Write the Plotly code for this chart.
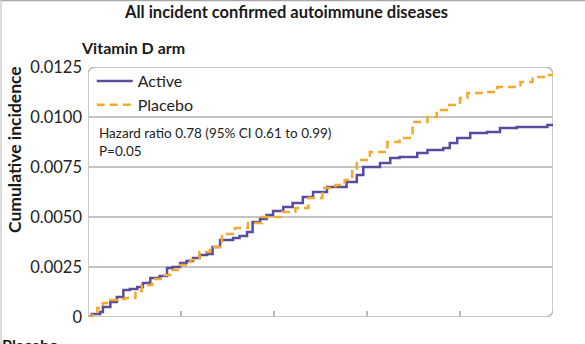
import plotly.graph_objects as go

# Data (years, cumulative incidence), step functions
active_t = [0, 0.04, 0.13, 0.16, 0.24, 0.31, 0.38, 0.45, 0.53, 0.59, 0.67, 0.77, 0.85, 0.91,
            0.99, 1.06, 1.13, 1.20, 1.28, 1.34, 1.42, 1.56, 1.63, 1.71, 1.77, 1.85, 1.92, 1.99,
            2.10, 2.20, 2.31, 2.42, 2.57, 2.78, 2.89, 2.96, 3.14, 3.25, 3.35, 3.54, 3.65, 3.82,
            3.89, 3.97, 4.11, 4.29, 4.43, 4.61, 4.94, 5.0]
active_v = [0, 0.00015, 0.00025, 0.0005, 0.00075, 0.001, 0.00135, 0.0014, 0.0015, 0.0017,
            0.00195, 0.00205, 0.00245, 0.0025, 0.0027, 0.0028, 0.00295, 0.0031, 0.00315, 0.0035,
            0.00385, 0.00395, 0.00405, 0.00425, 0.00475, 0.0049, 0.0051, 0.0053, 0.0055, 0.0057,
            0.006, 0.00625, 0.0065, 0.00675, 0.0071, 0.0075, 0.0077, 0.00795, 0.008, 0.0082,
            0.00835, 0.00845, 0.0087, 0.00895, 0.0092, 0.00925, 0.00945, 0.0095, 0.0096, 0.00965]

placebo_t = [0, 0.05, 0.10, 0.16, 0.24, 0.32, 0.40, 0.51, 0.58, 0.69, 0.80, 0.88, 0.99, 1.10,
             1.20, 1.31, 1.44, 1.58, 1.72, 1.87, 2.09, 2.23, 2.37, 2.52, 2.66, 2.76, 2.84, 2.89,
             3.03, 3.22, 3.35, 3.49, 3.65, 3.75, 3.86, 4.00, 4.08, 4.25, 4.40, 4.65, 4.78, 4.94, 5.0]
placebo_v = [0, 0.00025, 0.00045, 0.0007, 0.00085, 0.0009, 0.00095, 0.0013, 0.0016, 0.0019,
             0.0021, 0.00235, 0.0026, 0.00285, 0.00325, 0.0035, 0.00415, 0.00445, 0.0047, 0.005,
             0.00525, 0.00545, 0.00595, 0.00645, 0.0066, 0.00685, 0.00735, 0.00785, 0.00825,
             0.00875, 0.00895, 0.00975, 0.01, 0.01035, 0.0106, 0.01095, 0.0112, 0.01125, 0.0115,
             0.01175, 0.012, 0.0121, 0.0121]

y_ticks = [0, 0.0025, 0.0050, 0.0075, 0.0100, 0.0125]
y_labels = ["0", "0.0025", "0.0050", "0.0075", "0.0100", "0.0125"]
x_ticks = [1, 2, 3, 4]

PURPLE = "#5b4b9f"
ORANGE = "#f2a92c"
GRAY = "#b9b9b9"
FONT = "Lato"

fig = go.Figure()
fig.add_trace(go.Scatter(x=active_t, y=active_v, mode="lines", name="Active",
                         line=dict(color=PURPLE, width=2.5, shape="hv"), cliponaxis=False))
fig.add_trace(go.Scatter(x=placebo_t, y=placebo_v, mode="lines", name="Placebo",
                         line=dict(color=ORANGE, width=2.5, shape="hv", dash="8px,5px"),
                         cliponaxis=False))

X1, Y1 = 5, 0.0125
rx, ry = 0.09, 0.0004
frame = (f"M 0,0 L 0,{Y1-ry} Q 0,{Y1} {rx},{Y1} L {X1-rx},{Y1} Q {X1},{Y1} {X1},{Y1-ry} "
         f"L {X1},{ry} Q {X1},0 {X1-rx},0 Z")
fig.add_shape(type="path", path=frame, xref="x", yref="y",
              line=dict(color=GRAY, width=1.5), layer="below")

# Thin page border lines at top and left
fig.add_shape(type="line", xref="paper", yref="paper", x0=-0.2, x1=1.1, y0=1.266, y1=1.266,
              line=dict(color="#a8a8a8", width=1.5))
fig.add_shape(type="line", xref="paper", yref="paper", x0=-0.187, x1=-0.187, y0=-0.2, y1=1.27,
              line=dict(color="#d0d0d0", width=1.5))

fig.update_layout(
    width=585, height=344,
    margin=dict(l=88, r=32, t=67, b=27),
    paper_bgcolor="white", plot_bgcolor="white",
    font=dict(family=FONT, color="#222222"),
    showlegend=True,
    legend=dict(x=0.008, y=1.012, xanchor="left", yanchor="top",
                bgcolor="rgba(0,0,0,0)", font=dict(size=16, color="#222"),
                itemwidth=36, tracegroupgap=0),
    xaxis=dict(range=[0, 5], tickvals=x_ticks, showticklabels=False, ticks="inside",
               ticklen=6, tickcolor=GRAY, tickwidth=1.5, showgrid=False, zeroline=False,
               showline=False),
    yaxis=dict(range=[0, 0.0125], tickvals=y_ticks, ticktext=y_labels, showgrid=True,
               gridcolor="#c4c4c4", gridwidth=1.5, zeroline=False, showline=False,
               tickfont=dict(size=16.5, color="#222"), ticks="", ticklabelstandoff=5),
    annotations=[
        dict(text="<b>All incident confirmed autoimmune diseases</b>", xref="paper", yref="paper",
             x=0.426, y=1.22, xanchor="center", yanchor="middle", showarrow=False,
             font=dict(size=16.5, color="#1a1a1a")),
        dict(text="<b>Vitamin D arm</b>", xref="paper", yref="paper",
             x=-0.02, y=1.076, xanchor="left", yanchor="middle", showarrow=False,
             font=dict(size=16, color="#1a1a1a")),
        dict(text="<b>Cumulative incidence</b>", xref="paper", yref="paper",
             x=-0.158, y=0.67, xanchor="center", yanchor="middle", textangle=-90,
             showarrow=False, font=dict(size=17.5, color="#1a1a1a")),
        dict(text="Hazard ratio 0.78 (95% CI 0.61 to 0.99)<br>P=0.05", xref="paper", yref="paper",
             x=0.02, y=0.702, xanchor="left", yanchor="middle", align="left", showarrow=False,
             font=dict(size=13.5, color="#222")),
        dict(text="<b>Placebo</b>", xref="paper", yref="paper",
             x=-0.19, y=-0.065, xanchor="left", yanchor="top", showarrow=False,
             font=dict(size=16, color="#1a1a1a")),
    ],
)

fig.write_html("out.html")
